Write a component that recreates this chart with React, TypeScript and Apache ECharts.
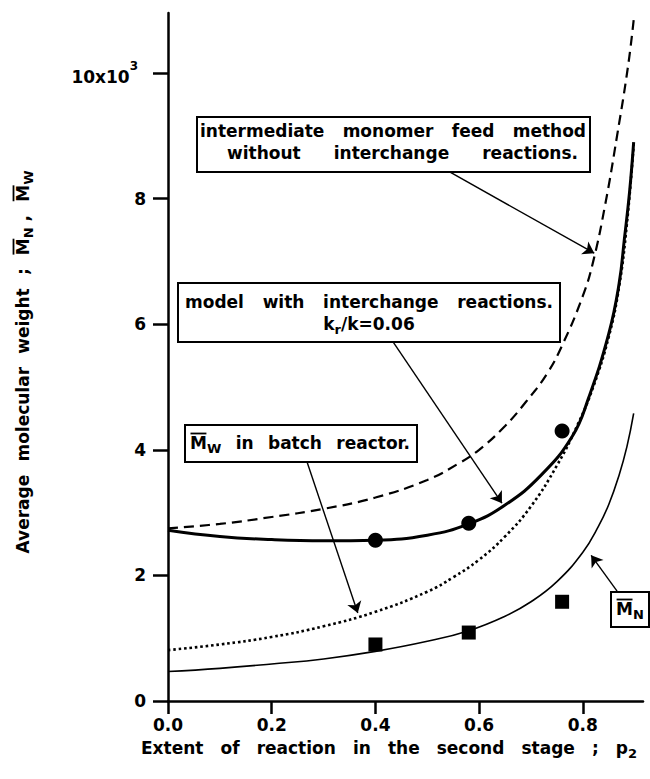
import { useEffect, useRef } from "react";
import * as echarts from "echarts";

// Axis ticks
const xTicks = [0, 0.2, 0.4, 0.6, 0.8];
const yTicks = [0, 2, 4, 6, 8, 10];

// Intermediate monomer feed method, no interchange reactions (Mw, x10^3)
const feedP = [0, 0.1, 0.2, 0.3, 0.4, 0.5, 0.56, 0.6, 0.65, 0.69, 0.73, 0.76, 0.8, 0.82, 0.843, 0.866, 0.887, 0.898];
const feedMw = [2.75, 2.82, 2.93, 3.06, 3.24, 3.52, 3.78, 4.0, 4.38, 4.76, 5.2, 5.66, 6.45, 7.0, 7.9, 9.0, 10.1, 10.84];

// Model with interchange reactions, kr/k = 0.06 (Mw)
const modelP = [0, 0.1, 0.2, 0.3, 0.4, 0.5, 0.58, 0.65, 0.72, 0.78, 0.81, 0.85, 0.87, 0.88, 0.89, 0.898];
const modelMw = [2.72, 2.62, 2.57, 2.55, 2.56, 2.64, 2.82, 3.12, 3.6, 4.22, 4.8, 5.85, 6.65, 7.35, 8.1, 8.9];

// Mw in batch reactor
const batchP = [0, 0.1, 0.2, 0.3, 0.4, 0.5, 0.55, 0.6, 0.65, 0.7, 0.75, 0.79, 0.82, 0.85, 0.87, 0.885, 0.898];
const batchMw = [0.81, 0.9, 1.02, 1.19, 1.42, 1.74, 1.97, 2.25, 2.62, 3.1, 3.75, 4.4, 5.0, 5.8, 6.6, 7.6, 8.85];

// Mn, model
const mnP = [0, 0.1, 0.2, 0.3, 0.4, 0.5, 0.58, 0.65, 0.7, 0.75, 0.8, 0.83, 0.85, 0.87, 0.885, 0.898];
const mnVal = [0.47, 0.52, 0.59, 0.67, 0.79, 0.95, 1.12, 1.35, 1.58, 1.9, 2.37, 2.78, 3.13, 3.6, 4.05, 4.58];

// Experimental results
const expP = [0.4, 0.58, 0.76];
const expMw = [2.56, 2.83, 4.3];
const expMn = [0.9, 1.09, 1.58];

// Leader arrows: [from, to] in data coordinates
const arrows: number[][][] = [
  [[0.544, 8.42], [0.822, 7.13]],
  [[0.434, 5.72], [0.644, 3.15]],
  [[0.268, 3.81], [0.366, 1.4]],
  [[0.866, 1.75], [0.816, 2.32]],
];

const FONT = '"DejaVu Sans", sans-serif';
const SIZE = 17;
const SUB = 13;
const TOP_Z = 101;

type Seg = { t: string; sub?: boolean; bar?: boolean };
type Word = Seg[];

let measureCtx: CanvasRenderingContext2D | null = null;
function measure(text: string, size: number) {
  if (!measureCtx) measureCtx = document.createElement("canvas").getContext("2d");
  measureCtx!.font = `bold ${size}px ${FONT}`;
  return measureCtx!.measureText(text).width;
}

const w = (s: string): Word => [{ t: s }];
const barred = (main: string, sub: string): Word => [{ t: main, bar: true }, { t: sub, sub: true }];

// Lays out words along a line (optionally justified to a width), with
// subscripts and overbars, as a graphic group.
function textRun(
  words: Word[],
  opt: { x: number; y: number; width?: number; align?: "center" | "left"; rotation?: number }
) {
  const wordWidths = words.map((wd) =>
    wd.reduce((acc, s) => acc + measure(s.t, s.sub ? SUB : SIZE), 0)
  );
  const sum = wordWidths.reduce((a, b) => a + b, 0);
  const gap =
    opt.width && words.length > 1 ? (opt.width - sum) / (words.length - 1) : measure(" ", SIZE) * 2;
  const total = opt.width ?? sum + gap * (words.length - 1);
  let cx = opt.align === "left" ? 0 : -total / 2;
  const children: any[] = [];
  words.forEach((wd, i) => {
    wd.forEach((s) => {
      const size = s.sub ? SUB : SIZE;
      const sw = measure(s.t, size);
      children.push({
        type: "text",
        z: TOP_Z,
        x: cx,
        y: s.sub ? 5 : 0,
        style: {
          text: s.t,
          align: "left",
          verticalAlign: "middle",
          fill: "#000",
          font: `bold ${size}px ${FONT}`,
        },
      });
      if (s.bar) {
        children.push({
          type: "line",
          z: TOP_Z,
          shape: { x1: cx + 0.5, y1: -9.5, x2: cx + sw - 0.5, y2: -9.5 },
          style: { stroke: "#000", lineWidth: 1.8 },
        });
      }
      cx += sw;
    });
    if (i < words.length - 1) cx += gap;
  });
  return {
    type: "group",
    x: opt.x,
    y: opt.y,
    rotation: opt.rotation ?? 0,
    z: TOP_Z,
    silent: true,
    children,
  };
}

function box(x: number, y: number, width: number, height: number) {
  return {
    type: "rect",
    z: 100,
    silent: true,
    shape: { x, y, width, height },
    style: { fill: "#fff", stroke: "#000", lineWidth: 2 },
  };
}

const zip = (xs: number[], ys: number[]) => xs.map((x, i) => [x, ys[i]]);

export default function App() {
  const ref = useRef<HTMLDivElement>(null);

  useEffect(() => {
    if (!ref.current) return;
    const chart = echarts.init(ref.current, null, { renderer: "svg" });

    const lineBase = {
      type: "line",
      smooth: 0.45,
      showSymbol: false,
      silent: true,
    };

    const option = {
      animation: false,
      backgroundColor: "#fff",
      grid: { left: 168, right: 7, top: 13, bottom: 78, containLabel: false },
      xAxis: {
        type: "value",
        min: 0,
        max: 0.916,
        axisLine: { lineStyle: { color: "#000", width: 2.5 } },
        axisTick: { customValues: xTicks, length: 13, lineStyle: { color: "#000", width: 2.5 } },
        axisLabel: {
          customValues: xTicks,
          margin: 15,
          color: "#000",
          fontFamily: FONT,
          fontWeight: "bold",
          fontSize: 17,
          formatter: (v: number) => v.toFixed(1),
        },
        splitLine: { show: false },
      },
      yAxis: {
        type: "value",
        min: 0,
        max: 10.955,
        axisLine: { lineStyle: { color: "#000", width: 2.5 } },
        axisTick: { customValues: yTicks, length: 15, lineStyle: { color: "#000", width: 2.5 } },
        axisLabel: {
          customValues: yTicks,
          margin: 22,
          color: "#000",
          fontFamily: FONT,
          fontWeight: "bold",
          fontSize: 17,
          formatter: (v: number) => (v === 10 ? "{a|10x10}{p|3}" : String(v)),
          rich: {
            a: { fontFamily: FONT, fontWeight: "bold", fontSize: 17, color: "#000", lineHeight: 26, verticalAlign: "bottom" },
            p: { fontFamily: FONT, fontWeight: "bold", fontSize: 12, color: "#000", lineHeight: 14, verticalAlign: "top", padding: [0, 8, 0, 0] },
          },
        },
        splitLine: { show: false },
      },
      series: [
        {
          ...lineBase,
          name: "feed",
          data: zip(feedP, feedMw),
          lineStyle: { color: "#000", width: 2.2, type: [10, 6] },
        },
        {
          ...lineBase,
          name: "model",
          data: zip(modelP, modelMw),
          lineStyle: { color: "#000", width: 3 },
        },
        {
          ...lineBase,
          name: "batch",
          data: zip(batchP, batchMw),
          lineStyle: { color: "#000", width: 2.6, type: [2.6, 2.8] },
        },
        {
          ...lineBase,
          name: "Mn",
          data: zip(mnP, mnVal),
          lineStyle: { color: "#000", width: 1.6 },
          markLine: {
            silent: true,
            symbol: ["none", "arrow"],
            symbolSize: 11,
            label: { show: false },
            lineStyle: { color: "#000", width: 1.4, type: "solid" },
            itemStyle: { color: "#000" },
            emphasis: { disabled: true },
            data: arrows.map(([a, b]) => [{ coord: a }, { coord: b }]),
          },
        },
        {
          name: "Mw exp",
          type: "scatter",
          data: zip(expP, expMw),
          symbol: "circle",
          symbolSize: 15,
          itemStyle: { color: "#000", opacity: 1 },
          silent: true,
          z: 5,
        },
        {
          name: "Mn exp",
          type: "scatter",
          data: zip(expP, expMn),
          symbol: "rect",
          symbolSize: 14,
          itemStyle: { color: "#000", opacity: 1 },
          silent: true,
          z: 5,
        },
      ],
      graphic: [
        // axis titles
        textRun(
          [w("Extent"), w("of"), w("reaction"), w("in"), w("the"), w("second"), w("stage"), w(";"), [{ t: "p" }, { t: "2", sub: true }]],
          { x: 389, y: 748, width: 496 }
        ),
        textRun(
          [w("Average"), w("molecular"), w("weight"), w(";"), [...barred("M", "N"), { t: " ," }], barred("M", "W")],
          { x: 23, y: 362, width: 383, rotation: Math.PI / 2 }
        ),
        // annotations
        box(197, 117, 393, 55),
        textRun([w("intermediate"), w("monomer"), w("feed"), w("method")], { x: 200, y: 131, width: 386, align: "left" }),
        textRun([w("without"), w("interchange"), w("reactions.")], { x: 227, y: 153, width: 351, align: "left" }),
        box(178, 283, 382, 59),
        textRun([w("model"), w("with"), w("interchange"), w("reactions.")], { x: 185, y: 302, width: 368, align: "left" }),
        textRun([[{ t: "k" }, { t: "r", sub: true }, { t: "/k=0.06" }]], { x: 369, y: 324 }),
        box(185, 425, 232, 37),
        textRun([barred("M", "W"), w("in"), w("batch"), w("reactor.")], { x: 190, y: 443, width: 220, align: "left" }),
        box(611, 592, 38, 35),
        textRun([barred("M", "N")], { x: 630, y: 609 }),
      ],
    };

    chart.setOption(option as any);
    return () => chart.dispose();
  }, []);

  return (
    <div
      ref={ref}
      style={{ position: "fixed", left: 0, top: 0, width: 650, height: 779, background: "#fff" }}
    />
  );
}
